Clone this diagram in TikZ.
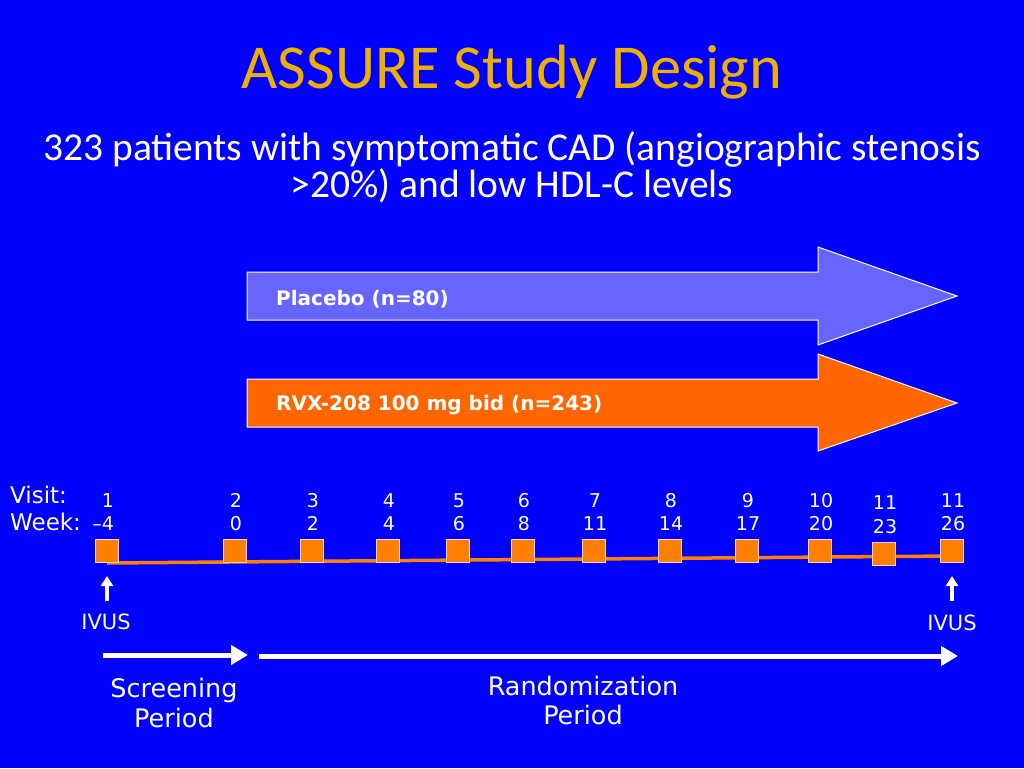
\documentclass[tikz,border=0pt]{standalone}
\usepackage{fontspec}
\setmainfont{DejaVu Sans}
\newfontfamily\calib{Carlito}
\usetikzlibrary{arrows.meta}
\definecolor{bgblue}{RGB}{0,0,255}
\definecolor{titlegold}{RGB}{238,176,0}
\definecolor{placebo}{RGB}{102,102,255}
\definecolor{rvx}{RGB}{255,102,0}
\definecolor{sqorange}{RGB}{255,128,0}
\definecolor{sqedge}{RGB}{255,215,200}
\begin{document}
\begin{tikzpicture}[x=1pt,y=-1pt,
  txt/.style={text=white,inner sep=0pt,anchor=base},
  small/.style={txt,font=\fontsize{19}{21}\selectfont},
  ivuslabel/.style={txt,font=\fontsize{21}{23}\selectfont},
  visitsq/.style={draw=sqedge,line width=1.2pt,fill=sqorange,minimum size=23pt,inner sep=0pt},
  armshape/.style={draw=white,line width=1pt},
  armlabel/.style={txt,anchor=base west,font=\bfseries\fontsize{20}{22}\selectfont},
  tline/.style={draw=sqorange,line width=3.5pt},
  period/.style={draw=white,line width=5pt,-{Triangle[width=19pt,length=17pt]}},
  ivusarrow/.style={draw=white,line width=4pt,-{Triangle[width=12pt,length=10pt]}},
  periodlabel/.style={txt,font=\fontsize{25.5}{30}\selectfont}
]
\useasboundingbox (0,0) rectangle (1024,768);
\fill[bgblue] (0,0) rectangle (1024,768);

% title
\node[txt,text=titlegold,font=\calib\fontsize{62.5}{66}\selectfont] (title) at (512,88) {ASSURE Study Design};
\node[txt,font=\calib\fontsize{39.5}{42}\selectfont] (sub1) at (512,160) {323 patients with symptomatic CAD (angiographic stenosis};
\node[txt,font=\calib\fontsize{39.5}{42}\selectfont] (sub2) at (512,197) {>20\%) and low HDL-C levels};

% arms
\draw[armshape,fill=placebo] (247,272) -- (818,272) -- (818,247) -- (957,296) -- (818,345) -- (818,320) -- (247,320) -- cycle;
\node[armlabel] (plabel) at (276,305) {Placebo (n=80)};
\draw[armshape,fill=rvx] (247,379) -- (818,379) -- (818,354) -- (957,403) -- (818,451) -- (818,427) -- (247,427) -- cycle;
\node[armlabel] (rlabel) at (276,410) {RVX-208 100 mg bid (n=243)};

% visit / week headers
\node[txt,anchor=base west,font=\fontsize{23}{25}\selectfont] (visit) at (10,503) {Visit:};
\node[txt,anchor=base west,font=\fontsize{23}{25}\selectfont] (week) at (10,530) {Week:};

% timeline line
\coordinate (ls) at (107,563);
\coordinate (le) at (952,556);
\draw[tline] (ls) -- (le);

% visit squares and labels
\foreach \n/\x/\y/\vis/\wk/\vb/\wb in {
  1/107/551/1/{\llap{–}4}/507/530,
  2/235/551/2/0/507/530,
  3/312/551/3/2/507/530,
  4/388/551/4/4/507/530,
  5/458/551/5/6/507/530,
  6/523/551/6/8/507/530,
  7/594/551/7/11/507/530,
  8/670/551/8/14/507/530,
  9/747/551/9/17/507/530,
  10/820/551/10/20/507/530,
  11/884/554/11/23/509/533,
  12/952/551/11/26/507/530} {
  \node[visitsq] (v\n) at (\x,\y) {};
  \node[small] (vn\n) at (\x+1,\vb) {\vis};
  \node[small] (wn\n) at (\x+1,\wb) {\wk};
}

% IVUS
\node[ivuslabel] (ivus1) at (106,629) {IVUS};
\node[ivuslabel] (ivus2) at (952,630) {IVUS};
\coordinate (ia1s) at (107,601);
\coordinate (ia1e) at (107,576);
\coordinate (ia2s) at (952,601);
\coordinate (ia2e) at (952,576);
\draw[ivusarrow] (ia1s) -- (ia1e);
\draw[ivusarrow] (ia2s) -- (ia2e);

% periods
\coordinate (ss) at (103,655);
\coordinate (se) at (248,655);
\coordinate (rs) at (259,656);
\coordinate (re) at (958,656);
\draw[period] (ss) -- (se);
\draw[period] (rs) -- (re);
\node[periodlabel] (scr1) at (174,697) {Screening};
\node[periodlabel] (scr2) at (174,727) {Period};
\node[periodlabel] (rnd1) at (583,695) {Randomization};
\node[periodlabel] (rnd2) at (583,724) {Period};
\end{tikzpicture}
\end{document}
